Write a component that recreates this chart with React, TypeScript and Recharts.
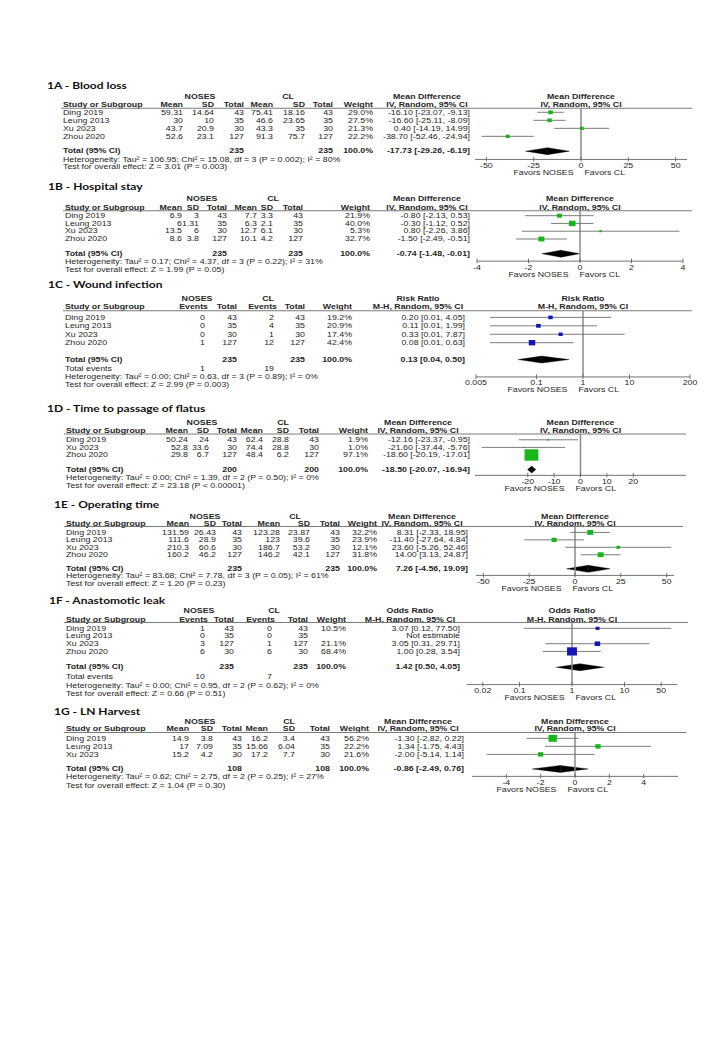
import React from 'react';
import { ScatterChart, Scatter, XAxis, YAxis, ReferenceLine, ReferenceArea, ErrorBar } from 'recharts';

// ---------------- DATA ----------------
const STUDIES_4 = ['Ding 2019', 'Leung 2013', 'Xu 2023', 'Zhou 2020'];
const STUDIES_D = ['Ding 2019', 'Xu 2023', 'Zhou 2020'];
const STUDIES_G = ['Ding 2019', 'Leung 2013', 'Xu 2023'];

// 1A Blood loss
const A_NOSES_MEAN = [59.31, 30, 43.7, 52.6];
const A_NOSES_SD = [14.64, 10, 20.9, 23.1];
const A_NOSES_N = [43, 35, 30, 127];
const A_CL_MEAN = [75.41, 46.6, 43.3, 91.3];
const A_CL_SD = [18.16, 23.65, 35, 75.7];
const A_CL_N = [43, 35, 30, 127];
const A_WEIGHT = [29.0, 27.5, 21.3, 22.2];
const A_EST = [-16.1, -16.6, 0.4, -38.7];
const A_LO = [-23.07, -25.11, -14.19, -52.46];
const A_HI = [-9.13, -8.09, 14.99, -24.94];
const A_TOTALS = [235, 235];
const A_POOLED = [-17.73, -29.26, -6.19];
const A_TICKS = [-50, -25, 0, 25, 50];

// 1B Hospital stay
const B_NOSES_MEAN = [6.9, 6, 13.5, 8.6];
const B_NOSES_SD = [3, 1.31, 6, 3.8];
const B_NOSES_N = [43, 35, 30, 127];
const B_CL_MEAN = [7.7, 6.3, 12.7, 10.1];
const B_CL_SD = [3.3, 2.1, 6.1, 4.2];
const B_CL_N = [43, 35, 30, 127];
const B_WEIGHT = [21.9, 40.0, 5.3, 32.7];
const B_EST = [-0.8, -0.3, 0.8, -1.5];
const B_LO = [-2.13, -1.12, -2.26, -2.49];
const B_HI = [0.53, 0.52, 3.86, -0.51];
const B_TOTALS = [235, 235];
const B_POOLED = [-0.74, -1.48, -0.01];
const B_TICKS = [-4, -2, 0, 2, 4];

// 1C Wound infection
const C_NOSES_EV = [0, 0, 0, 1];
const C_NOSES_N = [43, 35, 30, 127];
const C_CL_EV = [2, 4, 1, 12];
const C_CL_N = [43, 35, 30, 127];
const C_WEIGHT = [19.2, 20.9, 17.4, 42.4];
const C_EST = [0.2, 0.11, 0.33, 0.08];
const C_LO = [0.01, 0.01, 0.01, 0.01];
const C_HI = [4.05, 1.99, 7.87, 0.63];
const C_TOTALS = [235, 235];
const C_EVENTS = [1, 19];
const C_POOLED = [0.13, 0.04, 0.5];
const C_TICKS = [0.005, 0.1, 1, 10, 200];

// 1D Time to passage of flatus
const D_NOSES_MEAN = [50.24, 52.8, 29.8];
const D_NOSES_SD = [24, 33.6, 6.7];
const D_NOSES_N = [43, 30, 127];
const D_CL_MEAN = [62.4, 74.4, 48.4];
const D_CL_SD = [28.8, 28.8, 6.2];
const D_CL_N = [43, 30, 127];
const D_WEIGHT = [1.9, 1.0, 97.1];
const D_EST = [-12.16, -21.6, -18.6];
const D_LO = [-23.37, -37.44, -20.19];
const D_HI = [-0.95, -5.76, -17.01];
const D_TOTALS = [200, 200];
const D_POOLED = [-18.5, -20.07, -16.94];
const D_TICKS = [-20, -10, 0, 10, 20];

// 1E Operating time
const E_NOSES_MEAN = [131.59, 111.6, 210.3, 160.2];
const E_NOSES_SD = [26.43, 28.9, 60.6, 46.2];
const E_NOSES_N = [43, 35, 30, 127];
const E_CL_MEAN = [123.28, 123, 186.7, 146.2];
const E_CL_SD = [23.87, 39.6, 53.2, 42.1];
const E_CL_N = [43, 35, 30, 127];
const E_WEIGHT = [32.2, 23.9, 12.1, 31.8];
const E_EST = [8.31, -11.4, 23.6, 14.0];
const E_LO = [-2.33, -27.64, -5.26, 3.13];
const E_HI = [18.95, 4.84, 52.46, 24.87];
const E_TOTALS = [235, 235];
const E_POOLED = [7.26, -4.56, 19.09];
const E_TICKS = [-50, -25, 0, 25, 50];

// 1F Anastomotic leak
const F_NOSES_EV = [1, 0, 3, 6];
const F_NOSES_N = [43, 35, 127, 30];
const F_CL_EV = [0, 0, 1, 6];
const F_CL_N = [43, 35, 127, 30];
const F_WEIGHT = [10.5, null, 21.1, 68.4];
const F_EST = [3.07, null, 3.05, 1.0];
const F_LO = [0.12, null, 0.31, 0.28];
const F_HI = [77.5, null, 29.71, 3.54];
const F_TOTALS = [235, 235];
const F_EVENTS = [10, 7];
const F_POOLED = [1.42, 0.5, 4.05];
const F_TICKS = [0.02, 0.1, 1, 10, 50];

// 1G LN Harvest
const G_NOSES_MEAN = [14.9, 17, 15.2];
const G_NOSES_SD = [3.8, 7.09, 4.2];
const G_NOSES_N = [43, 35, 30];
const G_CL_MEAN = [16.2, 15.66, 17.2];
const G_CL_SD = [3.4, 6.04, 7.7];
const G_CL_N = [43, 35, 30];
const G_WEIGHT = [56.2, 22.2, 21.6];
const G_EST = [-1.3, 1.34, -2.0];
const G_LO = [-2.82, -1.75, -5.14];
const G_HI = [0.22, 4.43, 1.14];
const G_TOTALS = [108, 108];
const G_POOLED = [-0.86, -2.49, 0.76];
const G_TICKS = [-4, -2, 0, 2, 4];

const TITLES = ['1A - Blood loss', '1B - Hospital stay', '1C - Wound infection', '1D - Time to passage of flatus', '1E - Operating time', '1F - Anastomotic leak', '1G - LN Harvest'];
const HET = [
  'Heterogeneity: Tau² = 106.95; Chi² = 15.08, df = 3 (P = 0.002); I² = 80%',
  'Heterogeneity: Tau² = 0.17; Chi² = 4.37, df = 3 (P = 0.22); I² = 31%',
  'Heterogeneity: Tau² = 0.00; Chi² = 0.63, df = 3 (P = 0.89); I² = 0%',
  'Heterogeneity: Tau² = 0.00; Chi² = 1.39, df = 2 (P = 0.50); I² = 0%',
  'Heterogeneity: Tau² = 83.68; Chi² = 7.78, df = 3 (P = 0.05); I² = 61%',
  'Heterogeneity: Tau² = 0.00; Chi² = 0.95, df = 2 (P = 0.62); I² = 0%',
  'Heterogeneity: Tau² = 0.62; Chi² = 2.75, df = 2 (P = 0.25); I² = 27%',
];
const TEST = [
  'Test for overall effect: Z = 3.01 (P = 0.003)',
  'Test for overall effect: Z = 1.99 (P = 0.05)',
  'Test for overall effect: Z = 2.99 (P = 0.003)',
  'Test for overall effect: Z = 23.18 (P < 0.00001)',
  'Test for overall effect: Z = 1.20 (P = 0.23)',
  'Test for overall effect: Z = 0.66 (P = 0.51)',
  'Test for overall effect: Z = 1.04 (P = 0.30)',
];
const CONT_HEADERS = ['Mean', 'SD', 'Total', 'Mean', 'SD', 'Total', 'Weight'];
const BIN_HEADERS = ['Events', 'Total', 'Events', 'Total', 'Weight'];
const MD_HDR = ['Mean Difference', 'IV, Random, 95% CI'];
const RR_HDR = ['Risk Ratio', 'M-H, Random, 95% CI'];
const OR_HDR = ['Odds Ratio', 'M-H, Random, 95% CI'];

// ---------------- PANELS (built from the arrays) ----------------
const PANELS: any[] = [
  { kind: 'cont', studies: STUDIES_4, cols: [A_NOSES_MEAN, A_NOSES_SD, A_NOSES_N, A_CL_MEAN, A_CL_SD, A_CL_N], weight: A_WEIGHT, est: A_EST, lo: A_LO, hi: A_HI, totals: A_TOTALS, pooled: A_POOLED, events: null, ticks: A_TICKS, domain: [-56, 56], log: false, hdr: MD_HDR },
  { kind: 'cont', studies: STUDIES_4, cols: [B_NOSES_MEAN, B_NOSES_SD, B_NOSES_N, B_CL_MEAN, B_CL_SD, B_CL_N], weight: B_WEIGHT, est: B_EST, lo: B_LO, hi: B_HI, totals: B_TOTALS, pooled: B_POOLED, events: null, ticks: B_TICKS, domain: [-4, 4], log: false, hdr: MD_HDR },
  { kind: 'bin', studies: STUDIES_4, cols: [C_NOSES_EV, C_NOSES_N, C_CL_EV, C_CL_N], weight: C_WEIGHT, est: C_EST, lo: C_LO, hi: C_HI, totals: C_TOTALS, pooled: C_POOLED, events: C_EVENTS, ticks: C_TICKS, domain: [0.005, 200], log: true, hdr: RR_HDR },
  { kind: 'cont', studies: STUDIES_D, cols: [D_NOSES_MEAN, D_NOSES_SD, D_NOSES_N, D_CL_MEAN, D_CL_SD, D_CL_N], weight: D_WEIGHT, est: D_EST, lo: D_LO, hi: D_HI, totals: D_TOTALS, pooled: D_POOLED, events: null, ticks: D_TICKS, domain: [-40, 40], log: false, hdr: MD_HDR },
  { kind: 'cont', studies: STUDIES_4, cols: [E_NOSES_MEAN, E_NOSES_SD, E_NOSES_N, E_CL_MEAN, E_CL_SD, E_CL_N], weight: E_WEIGHT, est: E_EST, lo: E_LO, hi: E_HI, totals: E_TOTALS, pooled: E_POOLED, events: null, ticks: E_TICKS, domain: [-54, 54], log: false, hdr: MD_HDR },
  { kind: 'bin', studies: STUDIES_4, cols: [F_NOSES_EV, F_NOSES_N, F_CL_EV, F_CL_N], weight: F_WEIGHT, est: F_EST, lo: F_LO, hi: F_HI, totals: F_TOTALS, pooled: F_POOLED, events: F_EVENTS, ticks: F_TICKS, domain: [0.01, 100], log: true, hdr: OR_HDR },
  { kind: 'cont', studies: STUDIES_G, cols: [G_NOSES_MEAN, G_NOSES_SD, G_NOSES_N, G_CL_MEAN, G_CL_SD, G_CL_N], weight: G_WEIGHT, est: G_EST, lo: G_LO, hi: G_HI, totals: G_TOTALS, pooled: G_POOLED, events: null, ticks: G_TICKS, domain: [-6, 6], log: false, hdr: MD_HDR },
];

// ---------------- LAYOUT (unscaled units; page is squeezed vertically) ----------------
const SQUEEZE = 0.827;
const SQUEEZE_OFF = 85 * (1 - SQUEEZE);
const LAYOUT: any[] = [
  { titleX: 47, titleY: 85, grpY: 99, colY: 109, lineY: 113, row0: 118, step: 9.7, totalY: 165, eventsY: 0, hetY: 175, testY: 184, axisY: 175, x0: 63, lineX1: 692, cols: [183, 214, 244, 273, 305, 333, 373], nosesC: 200, clC: 288, effR: 470, effHC: 427, plotL: 475, plotR: 687, favMid: 579, k: 0.85 },
  { titleX: 48, titleY: 207, grpY: 223, colY: 233, lineY: 237, row0: 243, step: 9.4, totalY: 289, eventsY: 0, hetY: 299, testY: 308, axisY: 298, x0: 65, lineX1: 692, cols: [182, 199, 227, 257, 273, 303, 370], nosesC: 202, clC: 273, effR: 470, effHC: 427, plotL: 477, plotR: 683, favMid: 574, k: 1.05 },
  { titleX: 48, titleY: 326, grpY: 343, colY: 353, lineY: 358, row0: 366, step: 10.2, totalY: 417, eventsY: 428, hetY: 438, testY: 447, axisY: 438, x0: 65, lineX1: 692, cols: [205, 237, 274, 305, 352], nosesC: 197, clC: 268, effR: 465, effHC: 418, plotL: 476, plotR: 690, favMid: 573, k: 1.0 },
  { titleX: 47, titleY: 475, grpY: 493, colY: 503, lineY: 507, row0: 514, step: 9.2, totalY: 550, eventsY: 0, hetY: 560, testY: 570, axisY: 557, x0: 66, lineX1: 686, cols: [188, 209, 237, 263, 289, 319, 368], nosesC: 202, clC: 283, effR: 470, effHC: 418, plotL: 475, plotR: 686, favMid: 570, k: 1.4 },
  { titleX: 54, titleY: 592, grpY: 607, colY: 615, lineY: 619, row0: 626, step: 9, totalY: 670, eventsY: 0, hetY: 679, testY: 688, axisY: 678, x0: 66, lineX1: 683, cols: [189, 216, 242, 280, 310, 340, 377], nosesC: 205, clC: 295, effR: 468, effHC: 422, plotL: 476, plotR: 674, favMid: 567, k: 1.05 },
  { titleX: 49, titleY: 708, grpY: 721, colY: 732, lineY: 735, row0: 742, step: 9.3, totalY: 789, eventsY: 800, hetY: 811, testY: 821, axisY: 810, x0: 66, lineX1: 688, cols: [205, 234, 272, 308, 346], nosesC: 199, clC: 274, effR: 460, effHC: 410, plotL: 467, plotR: 677, favMid: 570, k: 1.2 },
  { titleX: 54, titleY: 842, grpY: 855, colY: 864, lineY: 868, row0: 875, step: 9.7, totalY: 912, eventsY: 0, hetY: 922, testY: 932, axisY: 921, x0: 66, lineX1: 686, cols: [189, 213, 242, 268, 295, 330, 369], nosesC: 200, clC: 289, effR: 464, effHC: 418, plotL: 472, plotR: 678, favMid: 562, k: 1.12 },
];

const FONT = '"Liberation Sans", Arial, sans-serif';
const TITLE_FONT = 'Lato, "Open Sans", sans-serif';
const FS = 8.8;
const TXT = '#262626';
const AXIS_H = 22;
const GREEN = '#19b619';
const BLUE = '#1616b4';

const f2 = (v: number) => v.toFixed(2);
const effStr = (e: any, l: any, h: any) => (e == null ? 'Not estimable' : `${f2(e)} [${f2(l)}, ${f2(h)}]`);

function T(props: { x: number; y: number; children: any; anchor?: string; bold?: boolean; size?: number; family?: string; fill?: string }) {
  const { x, y, children, anchor = 'start', bold = false, size = FS, family = FONT, fill = TXT } = props;
  return (
    <text x={x} y={y} textAnchor={anchor as any} dominantBaseline="central" fontFamily={family} fontSize={size} fontWeight={bold ? 700 : 400} fill={fill}>
      {children}
    </text>
  );
}

function PanelTable({ p, L, i }: { p: any; L: any; i: number }) {
  const cont = p.kind === 'cont';
  const hdrs = cont ? CONT_HEADERS : BIN_HEADERS;
  const plotC = (L.plotL + L.plotR) / 2;
  const evShift = (j: number) => (!cont && (j === 0 || j === 2) ? 3 : 0);
  const totIdx = cont ? [2, 5] : [1, 3];
  const wIdx = hdrs.length - 1;
  return (
    <g>
      <T x={L.titleX} y={L.titleY} bold size={12} family={TITLE_FONT} fill="#111">{TITLES[i]}</T>
      <T x={L.nosesC} y={L.grpY} anchor="middle" bold>NOSES</T>
      <T x={L.clC} y={L.grpY} anchor="middle" bold>CL</T>
      <T x={L.effHC} y={L.grpY} anchor="middle" bold>{p.hdr[0]}</T>
      <T x={plotC} y={L.grpY} anchor="middle" bold>{p.hdr[0]}</T>
      <T x={L.x0} y={L.colY} bold>Study or Subgroup</T>
      {hdrs.map((h: string, j: number) => (
        <T key={j} x={L.cols[j] + evShift(j)} y={L.colY} anchor="end" bold>{h}</T>
      ))}
      <T x={L.effHC} y={L.colY} anchor="middle" bold>{p.hdr[1]}</T>
      <T x={plotC} y={L.colY} anchor="middle" bold>{p.hdr[1]}</T>
      <line x1={L.x0 - 2} x2={L.lineX1} y1={L.lineY} y2={L.lineY} stroke="#7a7a7a" strokeWidth={1.2} />
      {p.studies.map((s: string, r: number) => {
        const y = L.row0 + r * L.step;
        return (
          <g key={s}>
            <T x={L.x0} y={y}>{s}</T>
            {p.cols.map((c: number[], j: number) => (
              <T key={j} x={L.cols[j]} y={y} anchor="end">{String(c[r])}</T>
            ))}
            <T x={L.cols[wIdx]} y={y} anchor="end">{p.weight[r] == null ? '' : p.weight[r].toFixed(1) + '%'}</T>
            <T x={L.effR} y={y} anchor="end">{effStr(p.est[r], p.lo[r], p.hi[r])}</T>
          </g>
        );
      })}
      <T x={L.x0} y={L.totalY} bold>Total (95% CI)</T>
      <T x={L.cols[totIdx[0]]} y={L.totalY} anchor="end" bold>{String(p.totals[0])}</T>
      <T x={L.cols[totIdx[1]]} y={L.totalY} anchor="end" bold>{String(p.totals[1])}</T>
      <T x={L.cols[wIdx]} y={L.totalY} anchor="end" bold>100.0%</T>
      <T x={L.effR} y={L.totalY} anchor="end" bold>{effStr(p.pooled[0], p.pooled[1], p.pooled[2])}</T>
      {p.events && (
        <g>
          <T x={L.x0} y={L.eventsY}>Total events</T>
          <T x={L.cols[0]} y={L.eventsY} anchor="end">{String(p.events[0])}</T>
          <T x={L.cols[2]} y={L.eventsY} anchor="end">{String(p.events[1])}</T>
        </g>
      )}
      <T x={L.x0} y={L.hetY}>{HET[i]}</T>
      <T x={L.x0} y={L.testY}>{TEST[i]}</T>
      <T x={L.favMid - 5.5} y={L.axisY + 16} anchor="end">Favors NOSES</T>
      <T x={L.favMid + 5.5} y={L.axisY + 16}>Favors CL</T>
    </g>
  );
}

const AxisTick = (props: any) => {
  const { x, y, payload } = props;
  return (
    <g>
      <line x1={x} x2={x} y1={y - 3} y2={y + 2.5} stroke="#666" strokeWidth={1} />
      <text x={x} y={y + 7.5} textAnchor="middle" dominantBaseline="central" fontFamily={FONT} fontSize={FS} fill={TXT}>
        {String(payload.value)}
      </text>
    </g>
  );
};

const LeftHalf = (q: any) => {
  const { x, y, width, height } = q;
  return <polygon points={`${x},${y + height / 2} ${x + width},${y} ${x + width},${y + height}`} fill="#000" stroke="#000" strokeWidth={0.4} />;
};
const RightHalf = (q: any) => {
  const { x, y, width, height } = q;
  return <polygon points={`${x},${y} ${x + width},${y + height / 2} ${x},${y + height}`} fill="#000" stroke="#000" strokeWidth={0.4} />;
};

function ForestPlot({ p, L }: { p: any; L: any }) {
  const w = L.plotR - L.plotL;
  const h = L.axisY - L.lineY + AXIS_H;
  const yTop = (L.lineY - L.row0) / L.step;
  const yBot = (L.axisY - L.row0) / L.step;
  const totRow = (L.totalY - L.row0) / L.step;
  const dh = 4.2 / L.step;
  const color = p.kind === 'cont' ? GREEN : BLUE;
  const pts = p.studies
    .map((s: string, r: number) => ({ study: s, row: r, est: p.est[r], w: p.weight[r], err: p.est[r] == null ? null : [p.est[r] - p.lo[r], p.hi[r] - p.est[r]] }))
    .filter((d: any) => d.est != null);
  const square = (q: any) => {
    const s = Math.max(1.6, L.k * Math.sqrt(q.payload.w));
    return <rect x={q.cx - s / 2} y={q.cy - s / 2} width={s} height={s} fill={color} />;
  };
  return (
    <div style={{ position: 'absolute', left: L.plotL, top: L.lineY, width: w, height: h }}>
      <ScatterChart width={w} height={h} margin={{ top: 0, right: 0, bottom: 0, left: 0 }}>
        <XAxis
          type="number"
          dataKey="est"
          scale={p.log ? 'log' : 'linear'}
          domain={p.domain}
          ticks={p.ticks}
          allowDataOverflow
          interval={0}
          height={AXIS_H}
          tickSize={0}
          tickMargin={0}
          tickLine={false}
          axisLine={{ stroke: '#666', strokeWidth: 1 }}
          tick={<AxisTick />}
        />
        <YAxis type="number" dataKey="row" domain={[yTop, yBot]} reversed hide allowDataOverflow />
        <ReferenceLine x={p.log ? 1 : 0} stroke="#8a8a8a" strokeWidth={1.5} />
        <ReferenceArea x1={p.pooled[1]} x2={p.pooled[0]} y1={totRow - dh} y2={totRow + dh} shape={LeftHalf} />
        <ReferenceArea x1={p.pooled[0]} x2={p.pooled[2]} y1={totRow - dh} y2={totRow + dh} shape={RightHalf} />
        <Scatter data={pts} isAnimationActive={false} shape={square}>
          <ErrorBar dataKey="err" direction="x" width={0} stroke="#707070" strokeWidth={1} isAnimationActive={false} />
        </Scatter>
      </ScatterChart>
    </div>
  );
}

export default function App() {
  return (
    <div style={{ position: 'absolute', left: 0, top: 0, width: 720, height: 1040, background: '#fff', overflow: 'hidden' }}>
      <style>{'.recharts-surface{overflow:visible}'}</style>
      <div
        style={{
          position: 'absolute',
          left: 0,
          top: 0,
          width: 720,
          height: 1040,
          transformOrigin: '0 0',
          transform: `matrix(1, 0, 0, ${SQUEEZE}, 0, ${SQUEEZE_OFF})`,
        }}
      >
        <svg width={720} height={1040} style={{ position: 'absolute', left: 0, top: 0 }}>
          {PANELS.map((p, i) => (
            <PanelTable key={i} p={p} L={LAYOUT[i]} i={i} />
          ))}
        </svg>
        {PANELS.map((p, i) => (
          <ForestPlot key={i} p={p} L={LAYOUT[i]} />
        ))}
      </div>
    </div>
  );
}
